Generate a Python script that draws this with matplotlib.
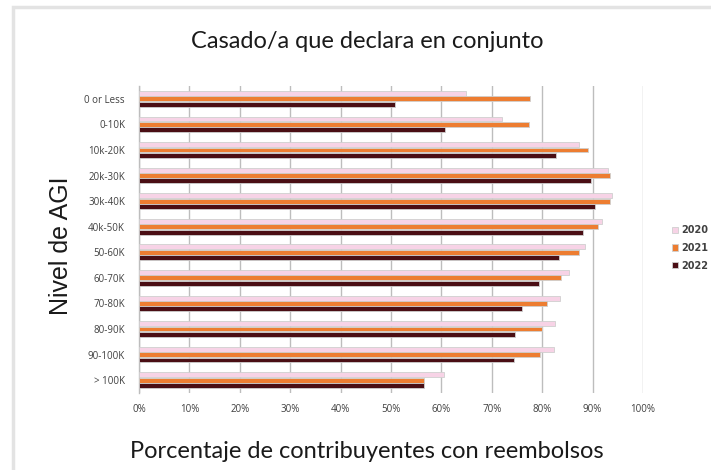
import matplotlib
matplotlib.use('Agg')
import matplotlib.pyplot as plt
import numpy as np

categories = ['0 or Less', '0-10K', '10k-20K', '20k-30K', '30k-40K', '40k-50K',
              '50-60K', '60-70K', '70-80K', '80-90K', '90-100K', '> 100K']
years = ['2020', '2021', '2022']
vals_2020 = [64.9, 72.1, 87.4, 93.1, 93.8, 91.9, 88.4, 85.4, 83.5, 82.6, 82.4, 60.5]
vals_2021 = [77.5, 77.4, 89.1, 93.5, 93.5, 91.0, 87.3, 83.7, 81.0, 80.0, 79.6, 56.5]
vals_2022 = [50.7, 60.8, 82.8, 89.6, 90.5, 88.0, 83.4, 79.4, 75.9, 74.7, 74.4, 56.5]
xticks = [0, 10, 20, 30, 40, 50, 60, 70, 80, 90, 100]

colors = ['#f7d3e6', '#ed7d31', '#4a0e14']
series = [vals_2020, vals_2021, vals_2022]

fig = plt.figure(figsize=(7.11, 4.70), dpi=100)
fig.patch.set_facecolor('white')

# light frame round the chart (right/bottom edges fall outside the picture)
frame = plt.Rectangle((13 / 711, -0.1), 1.2, 1 - 7.5 / 470 + 0.1, transform=fig.transFigure,
                      fill=False, edgecolor='#e3e3e3', linewidth=2.5)
fig.patches.append(frame)

ax = fig.add_axes([139 / 711, 1 - 393 / 470, (643 - 139) / 711, (393 - 86) / 470])

y = np.arange(len(categories))
h = 0.19
pitch = 0.21
for i, (vals, c, yr) in enumerate(zip(series, colors, years)):
    ax.barh(y + (i - 1) * pitch, vals, height=h, color=c, edgecolor='#cfcfcf',
            linewidth=0.6, label=yr, zorder=3)

ax.set_xlim(0, 100)
ax.set_ylim(len(categories) - 0.5, -0.5)
ax.set_yticks(y)
ax.set_yticklabels(categories, fontsize=7, color='#404040', family='Open Sans')
ax.set_xticks(xticks)
ax.set_xticklabels([f'{t}%' for t in xticks], fontsize=7, color='#404040', family='Open Sans')
ax.tick_params(axis='x', length=0, pad=8)
ax.tick_params(axis='y', length=0, pad=10)
ax.xaxis.grid(True, color='#bdbdbd', linewidth=1.0, zorder=0)
for s in ['top', 'right', 'bottom']:
    ax.spines[s].set_visible(False)
ax.spines['left'].set_color('#bdbdbd')
ax.spines['left'].set_linewidth(1.0)

fig.text(367 / 711, 1 - 41 / 470, 'Casado/a que declara en conjunto', ha='center', va='center',
         fontsize=17, family='Lato', color='#1a1a1a')
fig.text(367 / 711, 1 - 452 / 470, 'Porcentaje de contribuyentes con reembolsos', ha='center',
         va='center', fontsize=17, family='Lato', color='#1a1a1a')
fig.text(61 / 711, 1 - 246 / 470, 'Nivel de AGI', ha='center', va='center', rotation=90,
         fontsize=18, family='Liberation Sans', color='#1a1a1a')

leg = ax.legend(loc='center left', bbox_to_anchor=(663 / 711, 1 - 248 / 470),
                bbox_transform=fig.transFigure, frameon=False, fontsize=7,
                handlelength=0.6, handleheight=0.6, handletextpad=0.4, labelspacing=0.8)
for t in leg.get_texts():
    t.set_fontweight('bold')
    t.set_color('#404040')

fig.savefig('out.png', dpi=100)
